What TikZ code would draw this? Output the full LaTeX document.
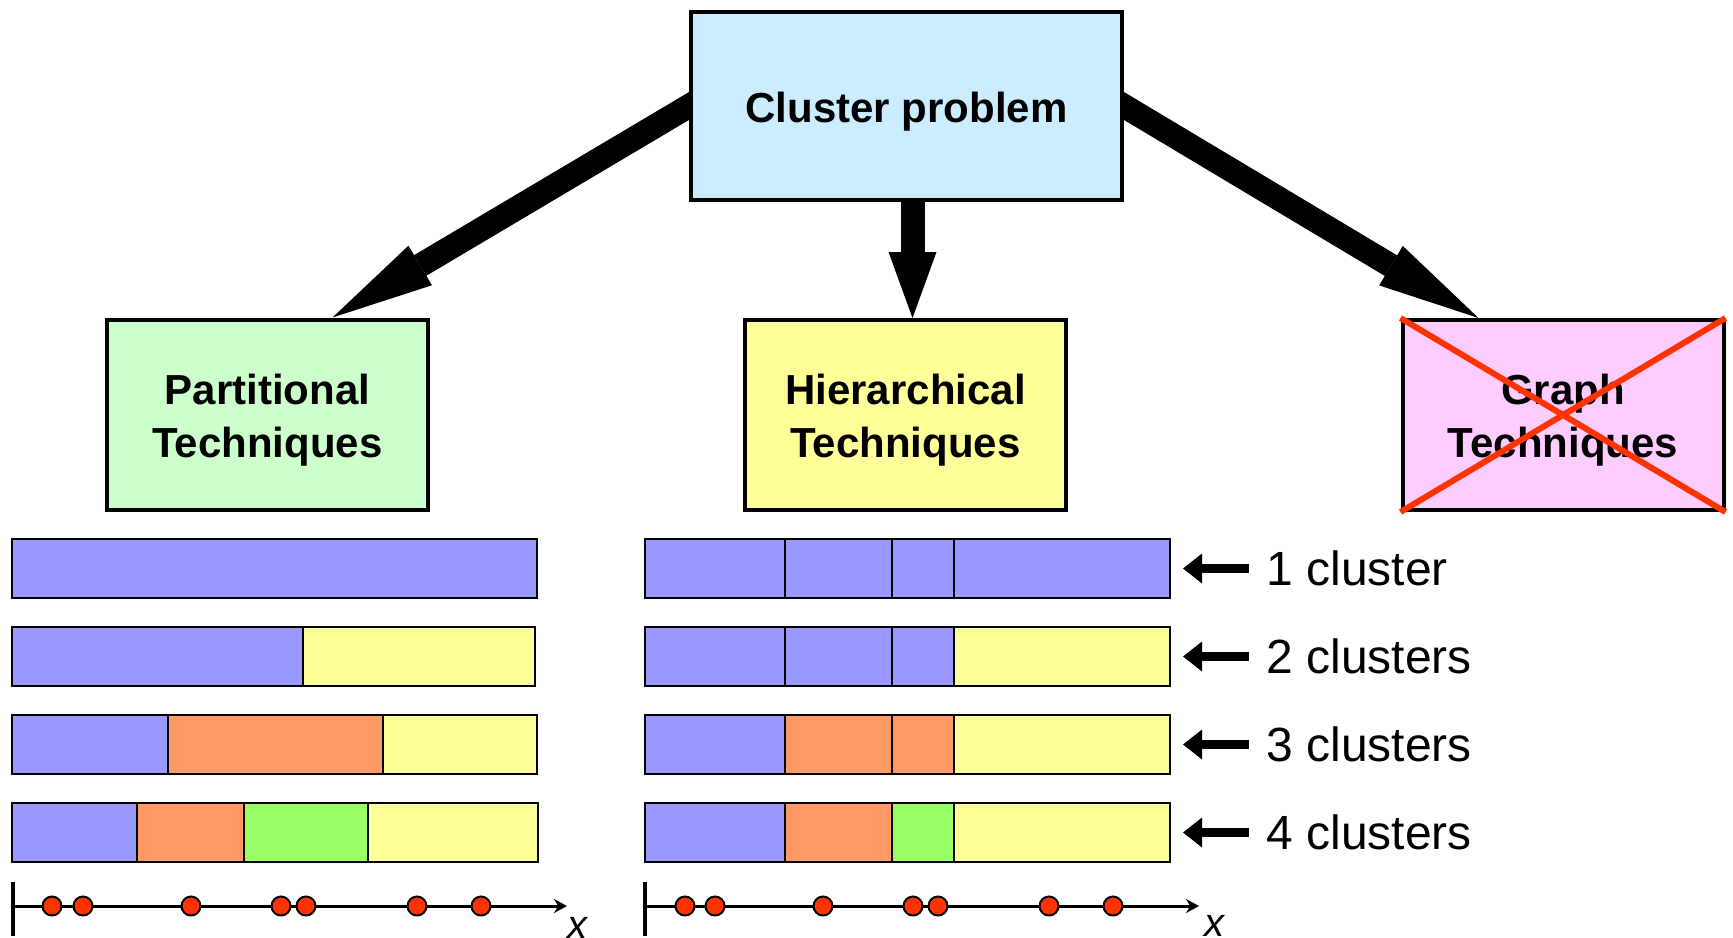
\documentclass[tikz,border=0pt]{standalone}
\usepackage{fontspec}
\setmainfont{Liberation Sans}
\usetikzlibrary{arrows.meta,calc,backgrounds}
\definecolor{topblue}{HTML}{CCECFF}
\definecolor{boxgreen}{HTML}{CCFFCC}
\definecolor{boxyellow}{HTML}{FFFF99}
\definecolor{boxpink}{HTML}{FFCCFF}
\definecolor{barblue}{HTML}{9999FF}
\definecolor{barorange}{HTML}{FF9966}
\definecolor{bargreen}{HTML}{99FF66}
\definecolor{crossred}{HTML}{FF3300}
\begin{document}
\begin{tikzpicture}[x=0.5pt,y=-0.5pt,
 bigbox/.style={draw=black,line width=2pt,inner sep=0pt,minimum width=160.5pt,minimum height=95pt},
 boxtext/.style={inner sep=0pt,align=center,font=\fontsize{21}{26.5}\selectfont\bfseries},
 bigarrow/.style={line width=12pt,-{Triangle[length=51pt,width=23pt,line width=0pt]}},
 midarrow/.style={line width=12pt,-{Triangle[length=33pt,width=24pt,line width=0pt]}},
 bar/.style={draw=black,line width=1pt},
 smallarrow/.style={line width=4.5pt,-{Triangle[length=9.5pt,width=15pt,line width=0pt]}},
 lbl/.style={anchor=west,inner sep=0pt,font=\fontsize{24}{28}\selectfont},
 axisline/.style={line width=1.5pt,-{Stealth[length=6.5pt,width=7pt]}},
 tickline/.style={line width=2pt},
 dot/.style={fill=crossred,draw=black,line width=1pt},
 xlab/.style={font=\fontsize{20}{20}\selectfont\itshape,anchor=base,inner sep=0pt}
]
\useasboundingbox (0,0) rectangle (1733,937);

% boxes
\node[bigbox,fill=topblue,minimum width=215.5pt,minimum height=94pt] (top) at (906.5,106) {};
\node[bigbox,fill=boxgreen] (part) at (267.5,414.5) {};
\node[bigbox,fill=boxyellow] (hier) at (905.5,415) {};
\node[bigbox,fill=boxpink] (graph) at (1563,415) {};
\node[boxtext] (topt) at ([yshift=-2.75pt]top.center) {Cluster problem};
\node[boxtext] (partt) at ([yshift=-2.75pt]part.center) {Partitional\\Techniques};
\node[boxtext] (hiert) at ([yshift=-2.75pt]hier.center) {Hierarchical\\Techniques};
\node[boxtext] (grapht) at ([yshift=-2.75pt]graph.center) {Graph\\Techniques};
\draw[crossred,line width=3pt] (graph.north west) -- (graph.south east)
  (graph.south west) -- (graph.north east);

% big arrows
\begin{scope}[on background layer]
\coordinate (ptip) at ($(part.north west)!0.70!(part.north east)$);
\coordinate (gtip) at ($(graph.north west)!0.24!(graph.north east)$);
\draw[bigarrow] ($(top.west)!-15pt!(ptip)$) -- (ptip);
\draw[bigarrow] ($(top.east)!-15pt!(gtip)$) -- (gtip);
\draw[midarrow] ([xshift=3pt]top.south) -- ([xshift=3pt]top.south |- hier.north);
\end{scope}

% left bars
\draw[bar,fill=barblue] (12,539) rectangle (537,598);
\draw[bar,fill=barblue] (12,627) rectangle (303,686);
\draw[bar,fill=boxyellow] (303,627) rectangle (535,686);
\draw[bar,fill=barblue] (12,715) rectangle (168,774);
\draw[bar,fill=barorange] (168,715) rectangle (383,774);
\draw[bar,fill=boxyellow] (383,715) rectangle (537,774);
\draw[bar,fill=barblue] (12,803) rectangle (137,862);
\draw[bar,fill=barorange] (137,803) rectangle (244,862);
\draw[bar,fill=bargreen] (244,803) rectangle (368,862);
\draw[bar,fill=boxyellow] (368,803) rectangle (538,862);

% right bars
\draw[bar,fill=barblue] (645,539) rectangle (785,598);
\draw[bar,fill=barblue] (785,539) rectangle (892,598);
\draw[bar,fill=barblue] (892,539) rectangle (954,598);
\draw[bar,fill=barblue] (954,539) rectangle (1170,598);
\draw[bar,fill=barblue] (645,627) rectangle (785,686);
\draw[bar,fill=barblue] (785,627) rectangle (892,686);
\draw[bar,fill=barblue] (892,627) rectangle (954,686);
\draw[bar,fill=boxyellow] (954,627) rectangle (1170,686);
\draw[bar,fill=barblue] (645,715) rectangle (785,774);
\draw[bar,fill=barorange] (785,715) rectangle (892,774);
\draw[bar,fill=barorange] (892,715) rectangle (954,774);
\draw[bar,fill=boxyellow] (954,715) rectangle (1170,774);
\draw[bar,fill=barblue] (645,803) rectangle (785,862);
\draw[bar,fill=barorange] (785,803) rectangle (892,862);
\draw[bar,fill=bargreen] (892,803) rectangle (954,862);
\draw[bar,fill=boxyellow] (954,803) rectangle (1170,862);

% labels and small arrows
\node[lbl] (l1) at (1266,568.5) {1 cluster};
\node[lbl] (l2) at (1266,656.5) {2 clusters};
\node[lbl] (l3) at (1266,744.5) {3 clusters};
\node[lbl] (l4) at (1266,832.5) {4 clusters};
\coordinate (a1) at (1183,568.5);
\coordinate (a2) at (1183,656.5);
\coordinate (a3) at (1183,744.5);
\coordinate (a4) at (1183,832.5);
\draw[smallarrow] ([xshift=-8.5pt]l1.west) -- (a1);
\draw[smallarrow] ([xshift=-8.5pt]l2.west) -- (a2);
\draw[smallarrow] ([xshift=-8.5pt]l3.west) -- (a3);
\draw[smallarrow] ([xshift=-8.5pt]l4.west) -- (a4);

% axes
\draw[tickline] (13,882) -- (13,936);
\draw[axisline] (13,906) -- (567,906);
\foreach \x in {52,83,191,281,306,417,481}
  \draw[dot] (\x,906) circle[radius=4.75pt];
\node[xlab] (x1) at (577.5,938) {x};

\draw[tickline] (645,882) -- (645,936);
\draw[axisline] (645,906) -- (1199,906);
\foreach \x in {685,715,823,913,938,1049,1113}
  \draw[dot] (\x,906) circle[radius=4.75pt];
\node[xlab] (x2) at (1214,936) {x};
\end{tikzpicture}
\end{document}
